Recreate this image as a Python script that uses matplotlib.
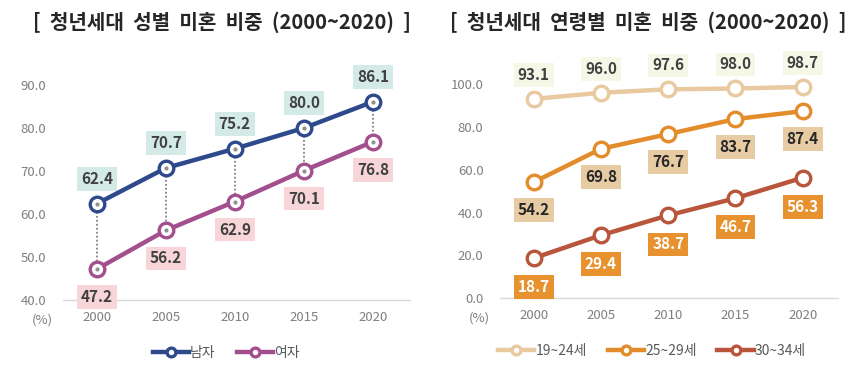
import numpy as np
import matplotlib
matplotlib.use("Agg")
import matplotlib.pyplot as plt

plt.rcParams['font.family'] = ['Noto Sans CJK KR', 'DejaVu Sans']

years = ["2000", "2005", "2010", "2015", "2020"]

# 성별 미혼 비중
male = [62.4, 70.7, 75.2, 80.0, 86.1]
female = [47.2, 56.2, 62.9, 70.1, 76.8]

# 연령별 미혼 비중
age_19_24 = [93.1, 96.0, 97.6, 98.0, 98.7]
age_25_29 = [54.2, 69.8, 76.7, 83.7, 87.4]
age_30_34 = [18.7, 29.4, 38.7, 46.7, 56.3]

left_ticks = [40.0, 50.0, 60.0, 70.0, 80.0, 90.0]
right_ticks = [0.0, 20.0, 40.0, 60.0, 80.0, 100.0]

tick_color = "#7f7f7f"
label_color = "#404040"

fig = plt.figure(figsize=(8.57, 3.76), dpi=100)
fig.patch.set_facecolor("white")

x = np.arange(len(years))


def style_axes(ax, ticks, ylim, xlim):
    ax.set_ylim(*ylim)
    ax.set_xlim(*xlim)
    ax.set_yticks(ticks)
    ax.set_yticklabels(["%.1f" % t for t in ticks])
    ax.set_xticks(x)
    ax.set_xticklabels(years)
    for s in ax.spines.values():
        s.set_visible(False)
    ax.tick_params(length=0, colors=tick_color, labelsize=9.5)
    ax.tick_params(axis="y", pad=12)
    ax.tick_params(axis="x", pad=8)
    ax.axhline(ylim[0], color="#d9d9d9", lw=1, zorder=0, clip_on=False)
    ax.annotate("(%)", xy=(0, 0), xycoords="axes fraction", xytext=(-21, -20),
                textcoords="offset pixels", ha="center", va="center",
                fontsize=9.5, color=tick_color)


def draw_line(ax, vals, color, lw=3.2):
    line, = ax.plot(x, vals, color=color, lw=lw, marker="o", markersize=10.5,
                    markerfacecolor="white", markeredgecolor=color,
                    markeredgewidth=2.4, zorder=3, clip_on=False)
    return line


def put_labels(ax, vals, offset_px, box, txt=label_color):
    for xi, v in zip(x, vals):
        ax.annotate("%.1f" % v, (xi, v), xytext=(0, offset_px), textcoords="offset pixels",
                    ha="center", va="center", fontsize=11, fontweight="bold", color=txt,
                    bbox=dict(boxstyle="square,pad=0.25", fc=box, ec="none"), zorder=4)


def add_legend(ax, handles, names, anchor):
    ax.legend(handles, names, loc="upper center", bbox_to_anchor=anchor,
              ncol=len(names), frameon=False, fontsize=10, labelcolor="#595959",
              handlelength=2.6, handletextpad=0.1, columnspacing=1.5, markerscale=0.6)


# ---- 왼쪽: 성별 ----
ax1 = fig.add_axes([0.0735, 0.202, 0.405, 0.629])
style_axes(ax1, left_ticks, (40, 95), (-0.49, 4.54))
for xi, m, f in zip(x, male, female):
    ax1.plot([xi, xi], [m, f], color="#808080", lw=1.3, ls=(0, (1, 1.2)), zorder=2)
l_m = draw_line(ax1, male, "#2e4a8c")
l_f = draw_line(ax1, female, "#a34f8e")
ax1.plot(x, male, ls="none", marker="o", markersize=2, color="#909090", zorder=3.5)
ax1.plot(x, female, ls="none", marker="o", markersize=2, color="#909090", zorder=3.5)
put_labels(ax1, male, 25, "#d4eae7")
put_labels(ax1, female, -28, "#f7d5d8")
add_legend(ax1, [l_m, l_f], ["남자", "여자"], (0.47, -0.14))
fig.text(0.259, 0.94, "[  청년세대  성별  미혼  비중  (2000~2020)  ]", ha="center", va="center",
         fontsize=14.5, fontweight="bold", color="#262626")

# ---- 오른쪽: 연령별 ----
ax2 = fig.add_axes([0.5835, 0.207, 0.394, 0.626])
style_axes(ax2, right_ticks, (0, 110), (-0.5, 4.52))
l1 = draw_line(ax2, age_19_24, "#e8c9a0")
l2 = draw_line(ax2, age_25_29, "#e38c2b")
l3 = draw_line(ax2, age_30_34, "#b8553a")
put_labels(ax2, age_19_24, 24, "#f5f8e6")
put_labels(ax2, age_25_29, -28, "#e6cba3", txt="#262626")
put_labels(ax2, age_30_34, -29, "#e8912f", txt="white")
add_legend(ax2, [l1, l2, l3], ["19~24세", "25~29세", "30~34세"], (0.45, -0.14))
fig.text(0.756, 0.94, "[  청년세대  연령별  미혼  비중  (2000~2020)  ]", ha="center", va="center",
         fontsize=14.5, fontweight="bold", color="#262626")

fig.savefig("out.png", dpi=100)
